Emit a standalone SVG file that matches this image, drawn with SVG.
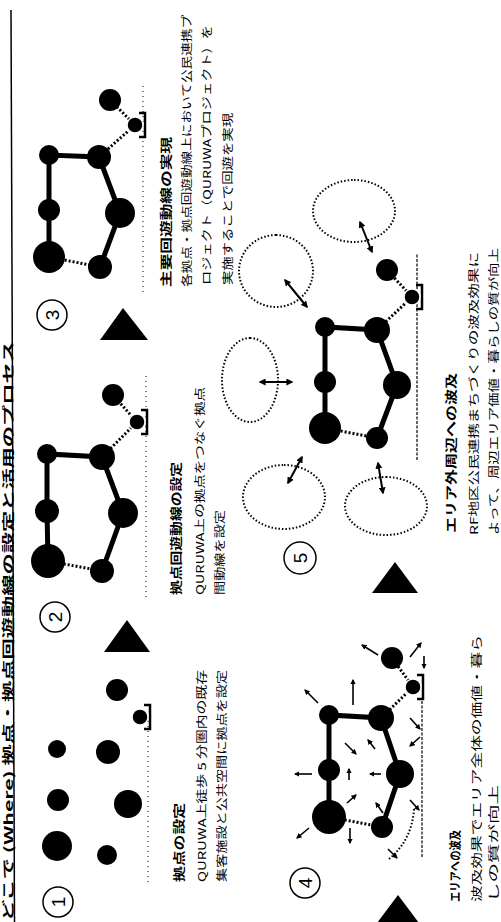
<svg xmlns="http://www.w3.org/2000/svg" width="501" height="922" viewBox="0 0 501 922">
<style>
.t{font-family:"Noto Sans CJK JP","Liberation Sans",sans-serif;font-size:11px;fill:#000}
.b{font-weight:bold;font-size:12px}
.ti{font-family:"Noto Sans CJK JP","Liberation Sans",sans-serif;font-size:12px;font-weight:bold;fill:#000}
.num{font-family:"Liberation Sans",sans-serif;font-size:19px;text-anchor:middle;fill:#000}
.nc{fill:none;stroke:#000;stroke-width:1.5}
.n{fill:#000}
.solid{stroke:#000;stroke-width:5;fill:none}
.dot{stroke:#000;stroke-width:3;stroke-dasharray:2 2;fill:none}
.rail{stroke:#000;stroke-width:1;stroke-dasharray:1 4;fill:none}
.rail2{stroke:#000;stroke-width:1.2;stroke-dasharray:3 1.5;fill:none}
.ell{fill:none;stroke:#000;stroke-width:2;stroke-dasharray:1.5 2}
.arr{stroke:#000;stroke-width:1.6;fill:none;marker-end:url(#ah)}
.darr{stroke:#000;stroke-width:2;fill:none;marker-start:url(#ahd);marker-end:url(#ahd)}
.tri{fill:#000}
</style>
<defs>
<marker id="ah" viewBox="0 0 10 10" refX="8" refY="5" markerWidth="3.5" markerHeight="3.5" orient="auto-start-reverse"><path d="M0,0 L10,5 L0,10 z" fill="#000"/></marker>
<marker id="ahd" viewBox="0 0 10 10" refX="8" refY="5" markerWidth="3.5" markerHeight="3.5" orient="auto-start-reverse"><path d="M0,0 L10,5 L0,10 z" fill="#000"/></marker>
<g id="st"><path d="M-12,4 V10 H12 V4" stroke="#000" stroke-width="2.5" fill="none"/><circle r="8" fill="#000" stroke="#fff" stroke-width="1.5"/></g>
</defs>
<rect width="501" height="922" fill="#fff"/>
<g transform="translate(0,922) rotate(-90)">
  <g id="title">
    <text class="ti" x="1" y="12.5" textLength="580" lengthAdjust="spacingAndGlyphs">どこで (Where) 拠点・拠点回遊動線の設定と活用のプロセス</text>
    <line x1="0" y1="14.5" x2="912" y2="11" stroke="#000" stroke-width="1.5"/>
  </g>

  <g id="connectors">
    <line class="rail" x1="40" y1="148" x2="205" y2="148"/>
    <line class="rail" x1="325" y1="146" x2="550" y2="146"/>
    <line class="rail" x1="630" y1="143" x2="840" y2="143"/>
    <line class="rail2" x1="65" y1="422" x2="222" y2="422"/>
    <line class="rail2" x1="462" y1="417" x2="669" y2="417"/>
    <polyline class="solid" points="361,48 411,47 468,47 465,102 409,123 351,102"/>
    <line class="dot" x1="361" y1="48" x2="351" y2="102"/>
    <polyline class="dot" points="465,102 500,137 527,113"/>
    <polyline class="solid" points="665,49 712,49 767,49 765,99 709,120 655,100"/>
    <line class="dot" x1="665" y1="49" x2="655" y2="100"/>
    <polyline class="dot" points="765,99 797,135 822,110"/>
    <polyline class="solid" points="105,329 152,329 207,329 204,381 148,400 95,382"/>
    <line class="dot" x1="105" y1="329" x2="95" y2="382"/>
    <polyline class="dot" points="204,381 235,413 264,392"/>
    <path class="ell" d="M113,414 Q82,412 63,389"/>
    <line class="arr" x1="94" y1="309" x2="84" y2="297"/>
    <line class="arr" x1="148" y1="312" x2="148" y2="295"/>
    <line class="arr" x1="94" y1="350" x2="79" y2="350"/>
    <line class="arr" x1="73" y1="388" x2="64" y2="397"/>
    <line class="arr" x1="179" y1="345" x2="168" y2="356"/>
    <line class="arr" x1="173" y1="375" x2="182" y2="368"/>
    <line class="arr" x1="142" y1="349" x2="153" y2="349"/>
    <line class="arr" x1="148" y1="381" x2="148" y2="370"/>
    <line class="arr" x1="119" y1="347" x2="127" y2="356"/>
    <line class="arr" x1="109" y1="383" x2="119" y2="376"/>
    <line class="arr" x1="122" y1="410" x2="112" y2="419"/>
    <line class="arr" x1="204" y1="410" x2="193" y2="420"/>
    <line class="arr" x1="185" y1="420" x2="176" y2="410"/>
    <line class="arr" x1="219" y1="318" x2="232" y2="305"/>
    <line class="arr" x1="217" y1="353" x2="242" y2="353"/>
    <line class="arr" x1="267" y1="378" x2="277" y2="362"/>
    <line class="arr" x1="265" y1="410" x2="279" y2="421"/>
    <line class="arr" x1="266" y1="424" x2="254" y2="424"/>
    <polyline class="solid" points="494,325 540,325 595,325 592,377 537,397 484,377"/>
    <line class="dot" x1="494" y1="325" x2="484" y2="377"/>
    <polyline class="dot" points="592,377 625,412 652,387"/>
    <line class="darr" x1="700" y1="360" x2="670" y2="372"/>
    <line class="darr" x1="642" y1="285" x2="615" y2="307"/>
    <line class="darr" x1="540" y1="260" x2="540" y2="292"/>
    <line class="darr" x1="439" y1="288" x2="465" y2="302"/>
    <line class="darr" x1="459" y1="378" x2="429" y2="383"/>
  </g>

  <g id="step1">
    <circle class="nc" cx="20" cy="58" r="15"/><text class="num" x="20" y="64.5">1</text>
    <circle id="n1a" class="n" cx="76" cy="57" r="15"/>
    <circle id="n1b" class="n" cx="122" cy="58" r="11"/>
    <circle id="n1c" class="n" cx="173" cy="57" r="9"/>
    <circle id="n1d" class="n" cx="170" cy="108" r="12"/>
    <circle id="n1e" class="n" cx="118" cy="128" r="14"/>
    <circle id="n1f" class="n" cx="67" cy="107" r="10"/>
    <circle id="n1g" class="n" cx="232" cy="117" r="11"/>
    <use id="s1" href="#st" x="205" y="140"/>
    <text class="t b" x="40" y="184" textLength="79" lengthAdjust="spacingAndGlyphs">拠点の設定</text>
    <text class="t" x="40" y="206" textLength="212" lengthAdjust="spacingAndGlyphs">QURUWA上徒歩 5 分圏内の既存</text>
    <text class="t" x="40" y="226" textLength="212" lengthAdjust="spacingAndGlyphs">集客施設と公共空間に拠点を設定</text>
  </g>

  <g id="step2">
    <polygon class="tri" points="302,127 270,104 270,150"/>
    <circle class="nc" cx="305" cy="55" r="15"/><text class="num" x="305" y="61.5">2</text>
    <circle id="n2a" class="n" cx="361" cy="48" r="17"/>
    <circle id="n2b" class="n" cx="411" cy="47" r="12"/>
    <circle id="n2c" class="n" cx="468" cy="47" r="10"/>
    <circle id="n2d" class="n" cx="465" cy="102" r="13"/>
    <circle id="n2e" class="n" cx="409" cy="123" r="15"/>
    <circle id="n2f" class="n" cx="351" cy="102" r="12"/>
    <use id="s2" href="#st" x="500" y="137"/>
    <circle id="n2g" class="n" cx="527" cy="113" r="11"/>
    <text class="t b" x="327" y="181" textLength="133" lengthAdjust="spacingAndGlyphs">拠点回遊動線の設定</text>
    <text class="t" x="327" y="204" textLength="208" lengthAdjust="spacingAndGlyphs">QURUWA上の拠点をつなぐ拠点</text>
    <text class="t" x="327" y="224" textLength="85" lengthAdjust="spacingAndGlyphs">間動線を設定</text>
  </g>

  <g id="step3">
    <polygon class="tri" points="614,123 582,100 582,148"/>
    <circle class="nc" cx="607" cy="52" r="15"/><text class="num" x="607" y="58.5">3</text>
    <circle id="n3a" class="n" cx="665" cy="49" r="16"/>
    <circle id="n3b" class="n" cx="712" cy="49" r="11"/>
    <circle id="n3c" class="n" cx="767" cy="49" r="10"/>
    <circle id="n3d" class="n" cx="765" cy="99" r="12"/>
    <circle id="n3e" class="n" cx="709" cy="120" r="15"/>
    <circle id="n3f" class="n" cx="655" cy="100" r="12"/>
    <use id="s3" href="#st" x="797" y="135"/>
    <circle id="n3g" class="n" cx="822" cy="110" r="11"/>
    <text class="t b" x="635" y="171" textLength="150" lengthAdjust="spacingAndGlyphs">主要回遊動線の実現</text>
    <text class="t" x="635" y="191" textLength="272" lengthAdjust="spacingAndGlyphs">各拠点・拠点回遊動線上において公民連携プ</text>
    <text class="t" x="637" y="211" textLength="260" lengthAdjust="spacingAndGlyphs">ロジェクト（QURUWAプロジェクト）を</text>
    <text class="t" x="637" y="232" textLength="172" lengthAdjust="spacingAndGlyphs">実施することで回遊を実現</text>
  </g>

  <g id="step4">
    <polygon class="tri" points="27,398 -5,374 -5,422"/>
    <circle class="nc" cx="39" cy="305" r="15"/><text class="num" x="39" y="311.5">4</text>
    <circle id="n4a" class="n" cx="105" cy="329" r="17"/>
    <circle id="n4b" class="n" cx="152" cy="329" r="11"/>
    <circle id="n4c" class="n" cx="207" cy="329" r="10"/>
    <circle id="n4d" class="n" cx="204" cy="381" r="13"/>
    <circle id="n4e" class="n" cx="148" cy="400" r="14"/>
    <circle id="n4f" class="n" cx="95" cy="382" r="11"/>
    <use id="s4" href="#st" x="235" y="413"/>
    <circle id="n4g" class="n" cx="264" cy="392" r="11"/>
    <text class="t b" x="20" y="460" textLength="72" lengthAdjust="spacingAndGlyphs">エリアへの波及</text>
    <text class="t" x="20" y="481" textLength="267" lengthAdjust="spacingAndGlyphs">波及効果でエリア全体の価値・暮ら</text>
    <text class="t" x="20" y="498" textLength="117" lengthAdjust="spacingAndGlyphs">しの質が向上</text>
  </g>

  <g id="step5">
    <polygon class="tri" points="360,395 329,372 329,418"/>
    <circle class="nc" cx="364" cy="300" r="16"/><text class="num" x="364" y="306.5">5</text>
    <ellipse class="ell" cx="711" cy="354" rx="31" ry="41"/>
    <ellipse class="ell" cx="651" cy="276" rx="36" ry="37"/>
    <ellipse class="ell" cx="542" cy="250" rx="42" ry="28"/>
    <ellipse class="ell" cx="425" cy="284" rx="32" ry="41"/>
    <ellipse class="ell" cx="416" cy="386" rx="29" ry="41"/>
    <circle id="n5a" class="n" cx="494" cy="325" r="16"/>
    <circle id="n5b" class="n" cx="540" cy="325" r="11"/>
    <circle id="n5c" class="n" cx="595" cy="325" r="10"/>
    <circle id="n5d" class="n" cx="592" cy="377" r="13"/>
    <circle id="n5e" class="n" cx="537" cy="397" r="14"/>
    <circle id="n5f" class="n" cx="484" cy="377" r="11"/>
    <use id="s5" href="#st" x="625" y="412"/>
    <circle id="n5g" class="n" cx="652" cy="387" r="11"/>
    <text class="t b" x="389" y="456" textLength="160" lengthAdjust="spacingAndGlyphs">エリア外周辺への波及</text>
    <text class="t" x="387" y="478" textLength="283" lengthAdjust="spacingAndGlyphs">RF地区公民連携まちづくりの波及効果に</text>
    <text class="t" x="387" y="498" textLength="287" lengthAdjust="spacingAndGlyphs">よって、周辺エリア価値・暮らしの質が向上</text>
  </g>
</g>
</svg>
